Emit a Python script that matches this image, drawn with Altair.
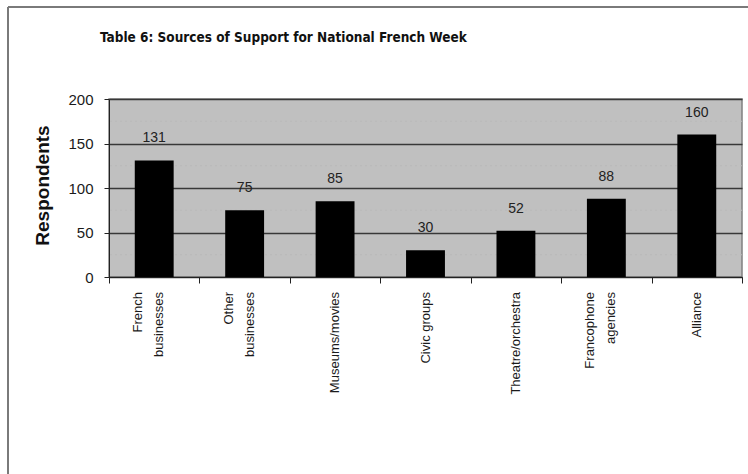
import altair as alt
import pandas as pd

categories = ["French\nbusinesses", "Other\nbusinesses", "Museums/movies", "Civic groups",
              "Theatre/orchestra", "Francophone\nagencies", "Alliance"]
values = [131, 75, 85, 30, 52, 88, 160]
y_ticks = [0, 50, 100, 150, 200]
minor_grid = [25, 75, 125, 175]

df = pd.DataFrame({"source": categories, "respondents": values})
minor_df = pd.DataFrame({"v": minor_grid})

W, H = 633, 178
PAD_L, PAD_T = 109, 99

x_scale = alt.Scale(paddingInner=0, paddingOuter=0)
x_enc = alt.X("source:N", sort=categories, scale=x_scale,
              axis=alt.Axis(title=None, labels=False,
                            tickBand="extent", tickSize=6, tickColor="#222222",
                            domainColor="#222222", grid=False))
y_scale = alt.Scale(domain=[0, 200], nice=False)

bars = alt.Chart(df).mark_bar(color="black", width=alt.RelativeBandSize(0.43)).encode(
    x=x_enc,
    y=alt.Y("respondents:Q", scale=y_scale,
            axis=alt.Axis(values=y_ticks, grid=True, gridColor="#383838", gridWidth=1.6,
                          domainColor="#222222", tickColor="#222222", tickSize=5,
                          labelFontSize=15, labelPadding=11, labelColor="#1a1a1a",
                          labelFont="Liberation Sans",
                          title="Respondents", titleFontSize=19, titleFontWeight="bold",
                          titleFont="Liberation Sans", titleColor="#111111",
                          titleAngle=270, titleX=-67, titleY=H / 2 - 3,
                          titleAlign="center", titleBaseline="middle")),
)

value_labels = alt.Chart(df).mark_text(baseline="middle", dy=-22, fontSize=14, color="#222222",
                                       font="Liberation Sans").encode(
    x=alt.X("source:N", sort=categories),
    y=alt.Y("respondents:Q", scale=y_scale),
    text="respondents:Q",
)

# category labels (rotated, reading bottom-to-top)
cat_style = dict(angle=270, align="right", baseline="middle", fontSize=13,
                 color="#1a1a1a", font="Liberation Sans", lineHeight=21)
cat_single = alt.Chart(df).transform_filter(
    "indexof(datum.source, '\\n') < 0"
).mark_text(dy=0, **cat_style).encode(
    x=alt.X("source:N", sort=categories),
    y=alt.value(H + 15),
    text="source:N",
)
cat_double = alt.Chart(df).transform_filter(
    "indexof(datum.source, '\\n') >= 0"
).transform_calculate(
    lines="split(datum.source, '\\n')"
).mark_text(dy=-16, **cat_style).encode(
    x=alt.X("source:N", sort=categories),
    y=alt.value(H + 15),
    text="lines:N",
)

minor = alt.Chart(minor_df).mark_rule(color="#b9b9b9", strokeDash=[2, 3], strokeWidth=1).encode(
    y=alt.Y("v:Q", scale=y_scale)
)

frame_data = alt.Data(values=[{}])
frame_left = alt.Chart(frame_data).mark_rule(color="#7a7a7a", strokeWidth=2).encode(
    x=alt.value(8 - PAD_L), y=alt.value(7 - PAD_T), y2=alt.value(474 - PAD_T + 5))
frame_top = alt.Chart(frame_data).mark_rule(color="#7a7a7a", strokeWidth=2).encode(
    x=alt.value(8 - PAD_L), x2=alt.value(748 - PAD_L + 5), y=alt.value(7 - PAD_T))

chart = alt.layer(minor, bars, value_labels, cat_single, cat_double,
                  frame_left, frame_top).properties(
    width=W, height=H,
    title=alt.TitleParams("Table 6: Sources of Support for National French Week",
                          anchor="start", frame="group", dx=-9, dy=38, offset=0,
                          fontSize=13.5, fontWeight="bold", color="#111111",
                          font="Liberation Sans Narrow, DejaVu Sans Condensed, Liberation Sans"),
    autosize=alt.AutoSizeParams(type="none"),
    padding={"left": PAD_L, "top": PAD_T, "right": 748 - PAD_L - W, "bottom": 474 - PAD_T - H},
    background="white",
).configure_view(fill="#c0c0c0", stroke="#808080", strokeWidth=1.5)

chart.save("out.html", embed_options={"renderer": "svg", "actions": False})
